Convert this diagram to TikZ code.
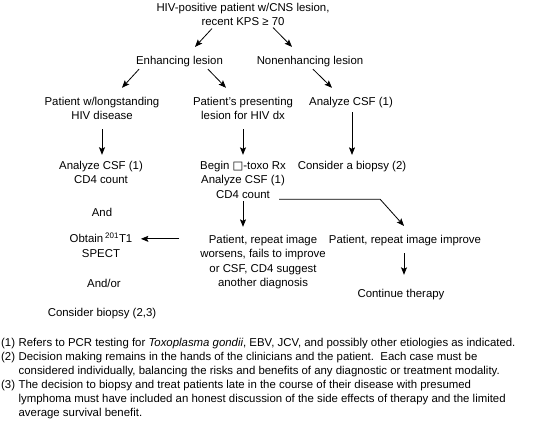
\documentclass[tikz,border=0pt]{standalone}
\usepackage{fontspec}
\setmainfont{Liberation Sans}
\newfontfamily\symfont{DejaVu Sans}
\usetikzlibrary{arrows.meta}
\begin{document}
\begin{tikzpicture}[x=1pt,y=-1pt,font=\fontsize{11.4}{14.5}\selectfont,txt/.style={align=center,inner sep=0pt},arr/.style={line width=0.8pt,-{Stealth[length=7.5pt,width=6pt,inset=1.5pt]}},notes/.style={anchor=north west,align=left,inner sep=0pt,font=\fontsize{11.4}{14}\selectfont}]
\useasboundingbox (0,0) rectangle (554,423);
% first two levels
\node[txt] (top) at (243,14.5) {HIV-positive patient w/CNS lesion,\\recent KPS ≥ 70};
\node[txt] (enh) at (179.5,61.2) {Enhancing lesion}; \node[txt] (nonenh) at (310,61.2) {Nonenhancing lesion};
\node[txt] (longst) at (102,108.2) {Patient w/longstanding\\HIV disease};
\node[txt] (present) at (243,108.2) {Patient's presenting\\lesion for HIV dx};
\node[txt] (csfR) at (351,102.1) {Analyze CSF (1)};
% work-up
\node[txt] (csfL) at (101,172.2) {Analyze CSF (1)\\CD4 count};
\node[txt] (begin) at (243,179.5) {Begin {\symfont □}-toxo Rx\\Analyze CSF (1)\\CD4 count};
\node[txt] (biopsyR) at (352,166.2) {Consider a biopsy (2)};
\node[txt] (andA) at (102,212) {And};
\node[txt] (obtain) at (101,245.5) {Obtain\,\textsuperscript{201}T1\\SPECT};
\node[txt] (worse) at (263,261.9) {Patient, repeat image\\worsens, fails to improve\\or CSF, CD4 suggest\\another diagnosis};
\node[txt] (improve) at (405,240.2) {Patient, repeat image improve};
\node[txt] (andor) at (104,283.5) {And/or};
\node[txt] (cont) at (401,294.1) {Continue therapy};
\node[txt] (biopsyL) at (102,314) {Consider biopsy (2,3)};
% connectors
\draw[arr] ([xshift=-31pt,yshift=-2.4pt]top.south) -- ([xshift=15.5pt,yshift=8.8pt]enh.north);
\draw[arr] ([xshift=30pt,yshift=-1.4pt]top.south) -- ([xshift=-18pt,yshift=8.8pt]nonenh.north);
\draw[arr] ([xshift=-40.5pt,yshift=-2.5pt]enh.south) -- ([xshift=20pt,yshift=8.8pt]longst.north);
\draw[arr] ([xshift=28.5pt,yshift=-2.5pt]enh.south) -- ([xshift=-17pt,yshift=8.8pt]present.north);
\draw[arr] ([xshift=3pt,yshift=-2.5pt]nonenh.south) -- ([xshift=-19pt,yshift=8.8pt]csfR.north);
\draw[arr] ([yshift=-9.4pt]longst.south) -- ([xshift=1pt,yshift=5.8pt]csfL.north);
\draw[arr] ([yshift=-9.4pt]present.south) -- ([yshift=5.8pt]begin.north);
\draw[arr] ([xshift=1pt,yshift=-4.5pt]csfR.south) -- ([yshift=5.8pt]biopsyR.north);
\draw[arr] ([yshift=-2.9pt]begin.south) -- ([xshift=-20pt,yshift=7.8pt]worse.north);
\draw[arr] ([xshift=-6.8pt,yshift=-0.9pt]begin.south east) -- ++(101,0) -- ([xshift=-1pt,yshift=8.8pt]improve.north);
\draw[arr] ([xshift=-20.7pt,yshift=-4.2pt]worse.north west) coordinate (wl) -- ([xshift=8.4pt]obtain.east |- wl);
\draw[arr] ([xshift=-1pt,yshift=-7.5pt]improve.south) -- ([xshift=3pt,yshift=13.8pt]cont.north);
% footnotes
\node[notes] (notes) at (1,336.8) {\begin{tabular}{@{}l@{\hspace{3.5pt}}l@{}}
(1) & Refers to PCR testing for \textit{Toxoplasma gondii}, EBV, JCV, and possibly other etiologies as indicated.\\
(2) & Decision making remains in the hands of the clinicians and the patient.\ \ Each case must be\\
 & considered individually, balancing the risks and benefits of any diagnostic or treatment modality.\\
(3) & The decision to biopsy and treat patients late in the course of their disease with presumed\\
 & lymphoma must have included an honest discussion of the side effects of therapy and the limited\\
 & average survival benefit.
\end{tabular}};
\end{tikzpicture}
\end{document}
